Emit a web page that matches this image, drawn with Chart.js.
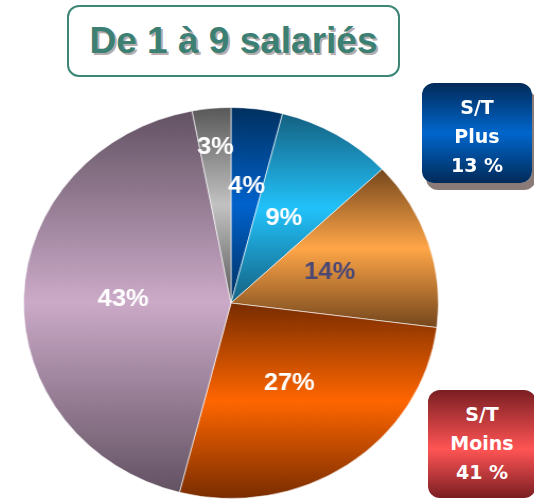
<!DOCTYPE html>
<html>
<head>
<meta charset="utf-8">
<script src="https://cdn.jsdelivr.net/npm/chart.js@4.4.0/dist/chart.umd.min.js"></script>
<style>
body { margin: 0; width: 534px; height: 502px; overflow: hidden; background: #fff; position: relative; }
#title {
    position: absolute; left: 67px; top: 5px; width: 333px; height: 72px;
    box-sizing: border-box; border: 2px solid #3d8577; border-radius: 12px;
    display: flex; align-items: center; justify-content: center;
    font: bold 37px "Liberation Sans", Arial, sans-serif; color: #3c8074;
    text-shadow: 2px 2px 0 #b5adad;
}
.box {
    position: absolute; border-radius: 12px; color: #fff; text-align: center;
    font: bold 19px "DejaVu Sans", Verdana, sans-serif; line-height: 29px;
    box-sizing: border-box; padding-top: 10px;
}
#plus { left: 422px; top: 83px; width: 110px; height: 100px;
    background: linear-gradient(#012a58, #0066cc 50%, #012a58);
    box-shadow: 4px 7px 0 #8b7b78; }
#moins { left: 428px; top: 390px; width: 108px; height: 108px;
    background: linear-gradient(#7a1e22, #ff5454 55%, #7a1e22); }
#pie { position: absolute; left: 35px; top: 107px; width: 392px; height: 392px;
    transform: scaleX(1.061); transform-origin: 50% 50%; }
</style>
</head>
<body>
<div id="title">De 1 à 9 salariés</div>
<div id="pie"><canvas id="chart"></canvas></div>
<div class="box" id="plus">S/T<br>Plus<br>13 %</div>
<div class="box" id="moins">S/T<br>Moins<br>41 %</div>
<script>
const sliceNames = ['Tranche 1', 'Tranche 2', 'Tranche 3', 'Tranche 4', 'Tranche 5', 'Tranche 6'];
const values = [4, 9, 14, 27, 43, 3];

// dark edge / light middle of each slice's vertical gradient
const edgeColors = ['#00305f', '#146080', '#74461c', '#782c00', '#625262', '#585858'];
const midColors = ['#0062cc', '#22c2fa', '#ffa648', '#ff6600', '#cbaac8', '#c2c2c2'];
const labelColors = ['#fff', '#fff', '#4c4874', '#fff', '#fff', '#fff'];
const labelRadius = [0.6, 0.5, 0.5, 0.5, 0.52, 0.8];

const total = values.reduce((a, b) => a + b, 0);

function sliceColor(context) {
    const chart = context.chart;
    const area = chart.chartArea;
    const i = context.dataIndex;
    if (!area) return midColors[i];
    const cx = (area.left + area.right) / 2;
    const cy = (area.top + area.bottom) / 2;
    const r = Math.min(area.right - area.left, area.bottom - area.top) / 2;
    let before = 0;
    for (let k = 0; k < i; k++) before += values[k];
    const a0 = -Math.PI / 2 + before / total * 2 * Math.PI;
    const a1 = -Math.PI / 2 + (before + values[i]) / total * 2 * Math.PI;
    const ys = [cy, cy + r * Math.sin(a0), cy + r * Math.sin(a1)];
    // include top / bottom extremes if the arc crosses them
    [-Math.PI / 2, Math.PI / 2, 3 * Math.PI / 2].forEach(a => {
        if (a >= a0 && a <= a1) ys.push(cy + r * Math.sin(a));
    });
    const top = Math.min(...ys), bottom = Math.max(...ys);
    const g = chart.ctx.createLinearGradient(0, top, 0, bottom);
    g.addColorStop(0, edgeColors[i]);
    g.addColorStop(0.5, midColors[i]);
    g.addColorStop(1, edgeColors[i]);
    return g;
}

const sliceLabels = {
    id: 'sliceLabels',
    afterDatasetsDraw(chart) {
        const ctx = chart.ctx;
        const meta = chart.getDatasetMeta(0);
        ctx.save();
        ctx.font = 'bold 24px "Liberation Sans", Arial, sans-serif';
        ctx.textAlign = 'center';
        ctx.textBaseline = 'middle';
        meta.data.forEach((arc, i) => {
            const mid = (arc.startAngle + arc.endAngle) / 2;
            const d = arc.outerRadius * labelRadius[i];
            ctx.fillStyle = labelColors[i];
            ctx.fillText(values[i] + '%', arc.x + Math.cos(mid) * d, arc.y + Math.sin(mid) * d);
        });
        ctx.restore();
    }
};

new Chart(document.getElementById('chart'), {
    type: 'pie',
    data: {
        labels: sliceNames,
        datasets: [{
            data: values,
            backgroundColor: sliceColor,
            borderColor: 'rgba(255,255,255,0.6)',
            borderWidth: 1
        }]
    },
    options: {
        responsive: true,
        maintainAspectRatio: false,
        animation: false,
        layout: { padding: 0 },
        plugins: {
            legend: { display: false },
            tooltip: { enabled: false }
        }
    },
    plugins: [sliceLabels]
});
</script>
</body>
</html>
